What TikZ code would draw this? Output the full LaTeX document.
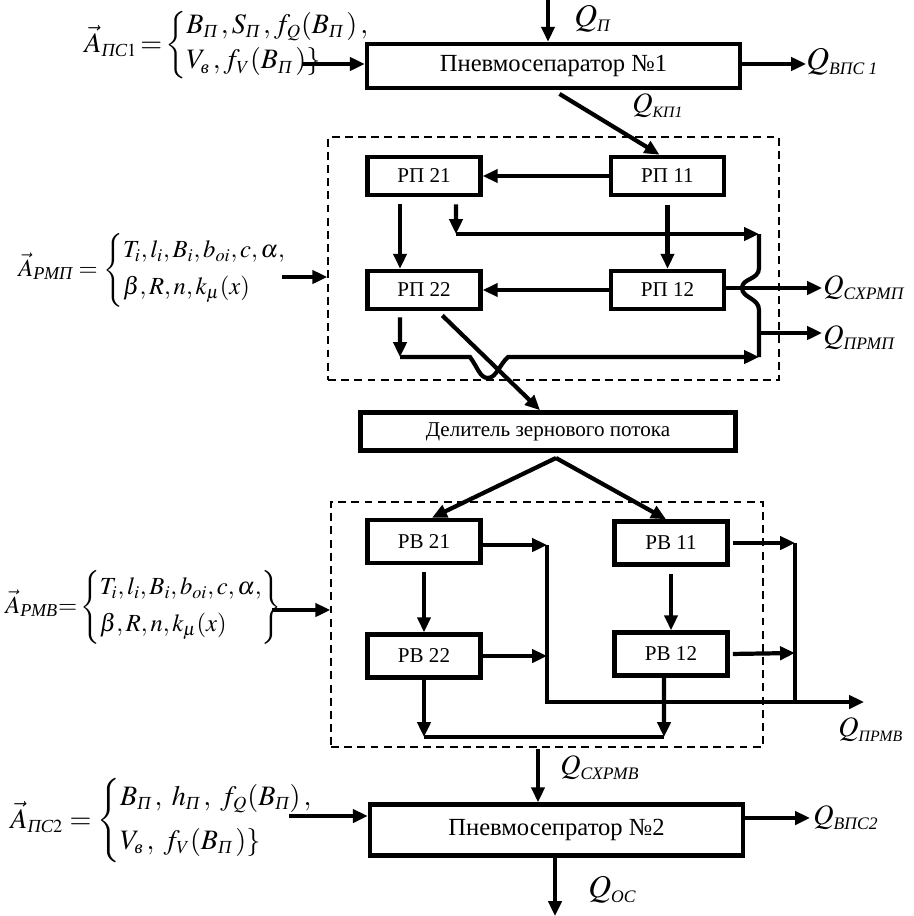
\documentclass[tikz,border=0pt]{standalone}
\usepackage{amsmath}
\usepackage{mathptmx}
\usepackage{fontspec}
\setmainfont{Liberation Serif}
\usetikzlibrary{arrows.meta}
\usetikzlibrary{positioning}
\DeclareMathSizes{16}{16}{10.5}{8}
\newcommand{\cy}[1]{\text{\itshape #1}}
\newcommand{\qsub}[2]{$Q_{\hbox{\fontsize{#1}{#1}\selectfont\itshape #2}}$}
\newcommand{\cm}{\,,}
\newcommand{\cmw}{\,,\;}
\tikzset{blk/.style = {draw, line width = 2.6pt, minimum width = 2.26cm, minimum height = 0.76cm, inner sep = 0, font = \fontsize{12}{14}\selectfont}}
\tikzset{sep/.style = {blk, minimum width = 7.46cm, minimum height = 0.88cm, font = \fontsize{14}{16}\selectfont}}
\tikzset{arr/.style = {line width = 2.4pt, -{Triangle[length = 8.5pt, width = 7.5pt]}}}
\tikzset{ln/.style = {line width = 2.4pt}}
\tikzset{frame/.style = {draw, dash pattern = on 4.5pt off 3pt, line width = 0.9pt, inner sep = 0}}
\tikzset{qlab/.style = {anchor = west, inner sep = 0, font = \fontsize{16}{18}\selectfont}}
\tikzset{frm/.style = {anchor = west, inner sep = 0, font = \fontsize{14}{17}\selectfont}}

\begin{document}
\begin{tikzpicture}[x = 0.02cm, y = -0.02cm]
  \useasboundingbox (0, 0) rectangle (913, 916);
  % blocks
  \node[sep] (ps1) at (553.5, 66) {Пневмосепаратор №1};
  \node[frame, minimum width = 9.02cm, minimum height = 4.86cm] (rmp) at (553.5, 258.5) {};
  \node[blk] (rp21) at (424, 176) {РП 21};
  \node[blk] (rp11) at (667.5, 176) {РП 11};
  \node[blk] (rp22) at (424, 290) {РП 22};
  \node[blk] (rp12) at (667.5, 290) {РП 12};
  \node[sep, minimum width = 7.5cm, minimum height = 0.76cm, font = \fontsize{12}{14}\selectfont] (div) at (548, 431.5) {Делитель зернового потока};
  \node[frame, minimum width = 8.64cm, minimum height = 4.9cm] (rmv) at (547, 624.5) {};
  \node[blk, minimum height = 0.86cm] (rv21) at (424, 541.5) {РВ 21};
  \node[blk, minimum height = 0.86cm] (rv11) at (671, 543) {РВ 11};
  \node[blk, minimum height = 0.86cm] (rv22) at (424, 656) {РВ 22};
  \node[blk, minimum height = 0.86cm] (rv12) at (671, 654) {РВ 12};
  \node[sep, minimum height = 1.02cm] (ps2) at (556.5, 830) {Пневмосепратор №2};

  % parameter sets
  \node[frm, font = \fontsize{16}{18}\selectfont] (fps1) at (84, 45) {$\vec{A}_{\cy{ПС}1}\!=\!\left\{\begin{array}{@{}l@{}} B_{\cy{П}}\cm S_{\cy{П}}\cm f_Q(B_{\cy{П}}\,)\,,\\[2pt] V_{\cy{в}}\cm f_V(B_{\cy{П}}\,)\} \end{array}\right.$};
  \node[frm] (fpmp) at (18, 270) {$\vec{A}_{\cy{РМП}} = \left\{\begin{array}{@{}l@{}} T_i, l_i, B_i, b_{oi}, c, \alpha,\\[4pt] \beta, R, n, k_\mu(x) \end{array}\right.$};
  \node[frm] (fpmv) at (5, 607) {$\vec{A}_{\cy{РМВ}} {=} \left\{\begin{array}{@{}l@{}} T_i, l_i, B_i, b_{oi}, c, \alpha,\\[4pt] \beta, R, n, k_\mu(x) \end{array}\right\}$};
  \node[frm, font = \fontsize{16}{18}\selectfont] (fps2) at (10, 821) {$\vec{A}_{\cy{ПС}2} = \left\{\begin{array}{@{}l@{}} B_{\cy{П}}\cmw h_{\cy{П}}\cmw f_Q(B_{\cy{П}})\,,\\[7pt] V_{\cy{в}}\cmw f_V(B_{\cy{П}}\,)\} \end{array}\right.$};

  % free ends
  \coordinate (qtop) at (548, 0);
  \coordinate (aps1) at (302, 64);
  \coordinate (qv1) at (806, 64);
  \coordinate (armp) at (282, 277);
  \coordinate (j1) at (456, 234);
  \coordinate (c1) at (759, 234);
  \coordinate (c2) at (759, 357);
  \coordinate (j2) at (400, 357);
  \coordinate (p1) at (759, 333);
  \coordinate (qsx) at (822, 288);
  \coordinate (qpr) at (822, 333);
  \coordinate (dv) at (556, 458);
  \coordinate (armv) at (272, 610);
  \coordinate (k1) at (547, 545);
  \coordinate (k2) at (547, 656);
  \coordinate (k3) at (547, 702);
  \coordinate (qpm) at (864, 702);
  \coordinate (m1) at (795, 543);
  \coordinate (m2) at (795, 653);
  \coordinate (b1) at (424, 737);
  \coordinate (b2) at (664, 737);
  \coordinate (qcx) at (538, 749);
  \coordinate (aps2) at (289, 816);
  \coordinate (qv2) at (810, 818);
  \coordinate (qos) at (555, 916);

  % first separator
  \draw[arr] (qtop) -- (qtop |- ps1.north);
  \draw[arr] (aps1) -- (aps1 -| ps1.west);
  \draw[arr] (ps1.east |- qv1) -- (qv1);
  \draw[arr, shorten <= 0.14cm] (ps1.south) -- ([xshift = -0.16cm]rp11.north);

  % РМП
  \draw[arr] (armp) -- (armp -| rmp.west);
  \draw[arr] (rp11) -- (rp21);
  \draw[arr, shorten <= 0.14cm] ([xshift = -0.48cm]rp21.south) -- ([xshift = -0.48cm]rp22.north);
  \draw[arr, shorten <= 0.14cm] ([xshift = 0.64cm]rp21.south) -- (j1);
  \draw[arr] (j1) -- (c1);
  \draw[arr, shorten <= 0.16cm] (rp11) -- (rp12);
  \draw[arr] (rp12) -- (rp22);
  \draw[arr] (rp12.east |- qsx) -- (qsx);
  \draw[ln] (c1) -- (759, 268) .. controls (759, 280) and (742, 278) .. (742, 288) .. controls (742, 298) and (759, 298) .. (759, 310) -- (c2);
  \draw[arr] (p1) -- (qpr);
  \draw[arr, shorten <= 0.12cm] ([xshift = -0.48cm]rp22.south) -- (j2);
  \draw[arr] (j2) -- (470, 357) .. controls (478, 368) and (480, 378) .. (488, 378) .. controls (496, 378) and (500, 364) .. (508, 357) -- (c2);
  \draw[arr, shorten <= 0.12cm] ([xshift = 0.28cm]rp22.south) -- ([xshift = -0.16cm]div.north);

  % РМВ
  \draw[arr] (dv) -- ([xshift = 0.16cm]rv21.north);
  \draw[arr] (dv) -- ([xshift = -0.1cm]rv11.north);
  \draw[arr, shorten <= 0.14cm] (rv21) -- (rv22);
  \draw[arr, shorten <= 0.14cm] (rv11) -- (rv12);
  \draw[arr] (armv) -- (armv -| rmv.west);
  \draw[arr] (rv21.east |- k1) -- (k1);
  \draw[arr] (rv22.east |- k2) -- (k2);
  \draw[arr] (k1) -- (k3) -- (qpm);
  \draw[arr, shorten <= 0.06cm] (rv11.east) -- (m1);
  \draw[arr, shorten <= 0.06cm] (rv12.east) -- (m2);
  \draw[ln] (m1) -- (m1 |- k3);
  \draw[arr] (rv22.south) -- (b1);
  \draw[arr] ([xshift = -0.14cm]rv12.south) -- (b2);
  \draw[ln] (b1) -- (b2);

  % second separator
  \draw[arr] (qcx) -- (qcx |- ps2.north);
  \draw[arr] (aps2) -- (aps2 -| ps2.west);
  \draw[arr] (ps2.east |- qv2) -- (qv2);
  \draw[arr] (ps2.south -| qos) -- (qos);

  % flow labels
  \node[qlab, font = \fontsize{18}{20}\selectfont] (lqp) at (574, 19) {\qsub{10}{П}};
  \node[qlab, font = \fontsize{18}{20}\selectfont] (lqv1) at (806, 62) {\qsub{10}{ВПС 1}};
  \node[qlab] (lqk) at (632, 106) {\qsub{9}{КП1}};
  \node[qlab] (lqsx) at (823, 288) {\qsub{10}{СХРМП}};
  \node[qlab] (lqpr) at (823, 338) {\qsub{10}{ПРМП}};
  \node[qlab] (lqpm) at (838, 730) {\qsub{9}{ПРМВ}};
  \node[qlab] (lqcx) at (560, 768) {\qsub{10}{СХРМВ}};
  \node[qlab] (lqv2) at (813, 818) {\qsub{10}{ВПС2}};
  \node[qlab, font = \fontsize{18}{20}\selectfont] (lqos) at (588, 890) {\qsub{10}{ОС}};
\end{tikzpicture}
\end{document}
